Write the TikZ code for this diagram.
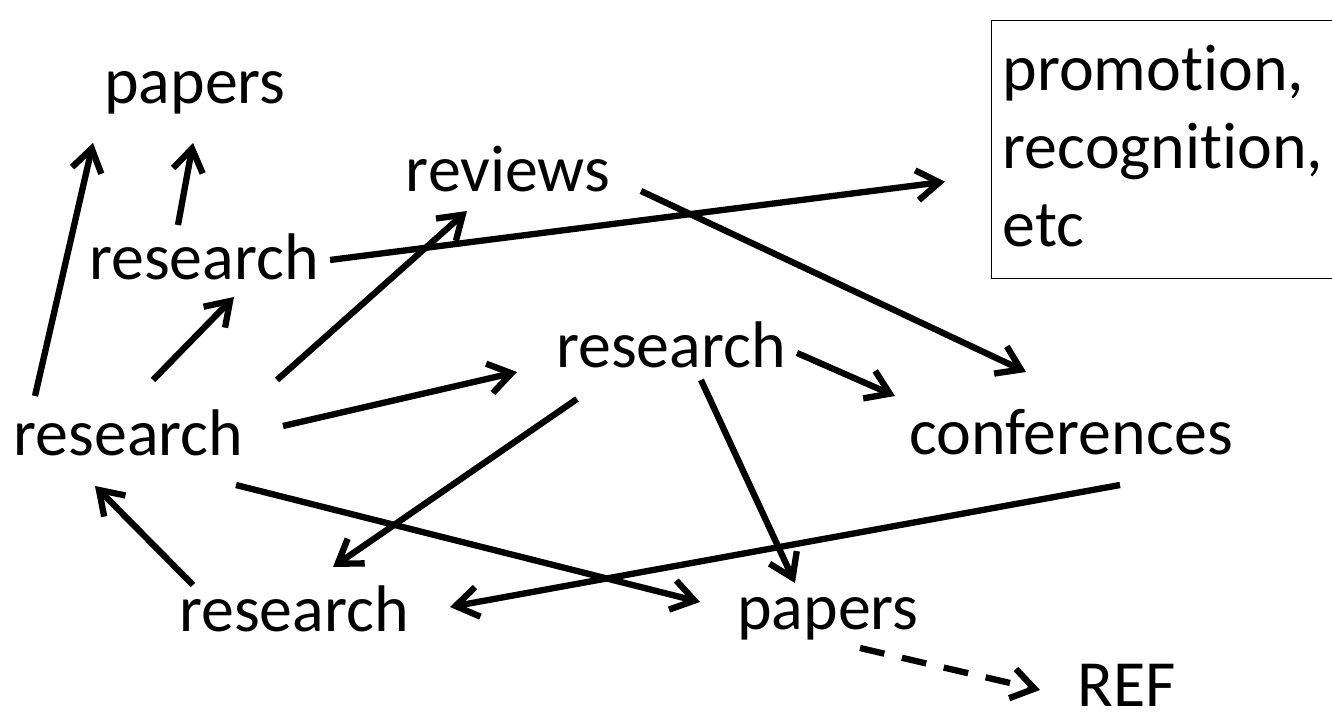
\documentclass[tikz,border=0pt]{standalone}
\usepackage{fontspec}
\setmainfont{Carlito}[Ligatures=NoCommon]
\usepackage{tikz}
\usetikzlibrary{arrows.meta,positioning}

\begin{document}
\begin{tikzpicture}[
  word/.style={inner sep=0pt, text height=0.88cm, text depth=0.3cm, font=\fontsize{37.5}{46}\selectfont},
  gainbox/.style={draw, line width=0.8pt, anchor=north west, align=left, text width=7cm, inner xsep=0.22cm, inner ysep=0.2cm, text height=1.2cm, text depth=3.56cm, font=\fontsize{37.5}{44.2}\selectfont},
  arrow/.style={-{Straight Barb[length=4.5mm,width=6mm]}, line width=3.6pt},
  dasharrow/.style={arrow, dash pattern=on 0.5cm off 0.36cm}
]
\useasboundingbox (0,0) rectangle (26.64,14.44);

% Words
\node[word] (pt) at (3.90, 12.65) {papers};
\node[word] (ru) at (4.08, 9.13) {research};
\node[word] (rv) at (10.16, 10.89) {reviews};
\node[word] (rm) at (13.42, 7.37) {research};
\node[word] (rl) at (2.57, 5.61) {research};
\node[word] (cf) at (21.42, 5.63) {conferences};
\node[word] (rb) at (5.88, 2.09) {research};
\node[word] (pb) at (16.56, 2.13) {papers};
\node[word, text depth=0pt] (ref) at (22.54, 0.75) {REF};

% Box
\node[gainbox] (gain) at (19.82, 14.04) {promotion,\\ recognition,\\ etc};

% Connections
\draw[arrow] ([shift={(-1.87,0.91)}]rl.center) -- ([shift={(-2.04,-1.07)}]pt.center);
\draw[arrow] ([shift={(-0.52,0.81)}]ru.center) -- ([shift={(-0.04,-1.07)}]pt.center);
\draw[arrow] ([shift={(0.49,1.23)}]rl.center) -- ([shift={(0.60,-0.63)}]ru.center);
\draw[arrow] ([shift={(2.97,1.23)}]rl.center) -- ([shift={(-0.82,-0.67)}]rv.center);
\draw[arrow] ([shift={(3.09,0.31)}]rl.center) -- ([shift={(-3.08,-0.37)}]rm.center);
\draw[arrow] ([shift={(2.52,0.11)}]ru.center) -- ([shift={(-0.92,-0.64)}]gain.west);
\draw[arrow] ([shift={(2.66,-0.27)}]rv.center) -- ([shift={(-0.90,1.37)}]cf.center);
\draw[arrow] ([shift={(2.52,0.01)}]rm.center) -- ([shift={(-3.52,0.89)}]cf.center);
\draw[arrow] ([shift={(-1.88,-0.91)}]rm.center) -- ([shift={(0.78,1.01)}]rb.center);
\draw[arrow] ([shift={(0.60,-0.53)}]rm.center) -- ([shift={(-0.66,0.65)}]pb.center);
\draw[arrow] ([shift={(2.15,-0.87)}]rl.center) -- ([shift={(-2.56,0.27)}]pb.center);
\draw[arrow] ([shift={(0.98,-0.89)}]cf.center) -- ([shift={(3.12,0.21)}]rb.center);
\draw[arrow] ([shift={(-2.02,0.65)}]rb.center) -- ([shift={(-0.67,-0.89)}]rl.center);
\draw[dasharrow] ([shift={(0.64,-0.65)}]pb.center) -- ([shift={(-1.74,-0.11)}]ref.center);

\end{tikzpicture}
\end{document}
